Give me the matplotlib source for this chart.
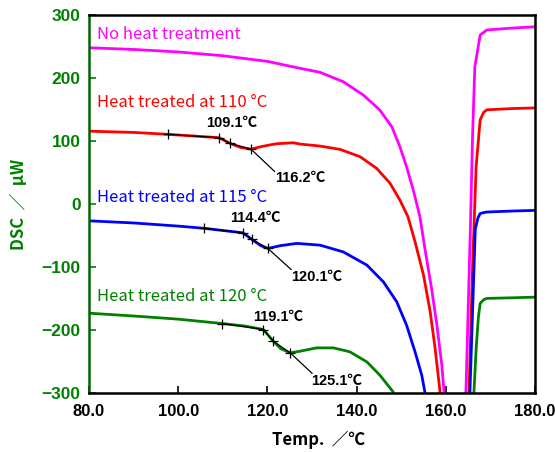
import matplotlib
matplotlib.use("Agg")
import matplotlib.pyplot as plt
from matplotlib.transforms import ScaledTranslation

# curves (temperature in degC, DSC in uW)
no_heat_t = [80, 90, 100, 110, 120, 127.3, 131.8, 137.0, 141.5, 145.2, 147.9, 149.7,
             151.2, 152.7, 154.2, 155.3, 156.8, 158.0, 159.1, 159.6, 159.9,
             164.3, 164.5, 165.5, 166.0, 166.5, 167.7, 169.2, 175, 180]
no_heat_dsc = [248.7, 246, 242, 236, 227, 216, 209.6, 194.7, 173.5, 149.6, 123, 91.2,
               59.4, 22.3, -20.2, -70.5, -134, -192.6, -256, -298.7, -340,
               -340, -300, -40, 110, 218, 269, 277, 280, 282]

ht110_t = [80, 90, 97.6, 103, 109.2, 111.6, 114, 116.3, 119, 122, 125.8, 127.3, 131.8,
           136.3, 140.8, 144.5, 147.5, 149.7, 151.5, 153.1, 155.0, 156.5, 157.6, 158.7,
           159.1, 165.0, 165.2, 166, 166.8, 167.7, 168.5, 169.2, 175, 180]
ht110_dsc = [116, 114, 111, 108.5, 105.6, 96.6, 90, 87.5, 92, 96, 97.6, 95.5, 92.3,
             87, 75.3, 56.8, 33, 6.4, -20, -60, -113, -171.4, -229.7, -298.7,
             -340, -340, -300, -100, 60, 134, 146, 150, 152, 153]

ht115_t = [80, 90, 100, 105.8, 110, 114.5, 116.5, 118.5, 120.1, 123, 126.6, 131.8, 137.0,
           142.3, 146.0, 149.0, 151.2, 153.1, 154.6, 155.3, 155.8,
           165.2, 165.4, 166.6, 167.2, 167.7, 168.5, 169.2, 175, 180]
ht115_dsc = [-26.6, -30, -35, -38.5, -42, -45.7, -56, -66, -70.5, -66, -62.5, -65.3, -76,
             -97, -123.7, -155.5, -192.6, -235, -272, -298.7, -340,
             -340, -300, -40, -22, -15, -13.5, -12.6, -11, -10]

ht120_t = [80, 90, 100, 109.9, 115, 119.1, 121.3, 123, 125.1, 127.3, 131.0, 134.8, 138.5,
           142.3, 145.2, 148.2, 148.8,
           166.1, 166.3, 166.8, 167.3, 167.7, 168.5, 169.2, 175, 180]
ht120_dsc = [-173.5, -178, -183, -190, -194, -199.5, -218, -230, -236.6, -234, -228.7, -228.7, -235,
             -251, -272, -298.7, -340,
             -340, -300, -230, -180, -158, -152, -150, -149, -148]

# onset / tangent marks on each heat treated curve
marks110_t = [97.6, 109.2, 111.6, 116.3]
marks110_dsc = [111, 105.6, 96.6, 87.5]
marks115_t = [105.8, 114.5, 116.5, 120.1]
marks115_dsc = [-38.5, -45.7, -56, -70.5]
marks120_t = [109.9, 119.1, 121.3, 125.1]
marks120_dsc = [-190, -199.5, -218, -236.6]

series_names = ["No heat treatment", "Heat treated at 110 \u00b0C",
                "Heat treated at 115 \u00b0C", "Heat treated at 120 \u00b0C"]
series_colors = ["#ff00ff", "#ff0000", "#0000ff", "#008000"]

GREEN = "#008000"

fig = plt.figure(figsize=(5.55, 4.53), dpi=100)
ax = fig.add_axes([0.1604, 0.1331, 0.8036, 0.8327])

curves = [(no_heat_t, no_heat_dsc), (ht110_t, ht110_dsc),
          (ht115_t, ht115_dsc), (ht120_t, ht120_dsc)]
for (t, d), c in zip(curves, series_colors):
    ax.plot(t, d, color=c, linewidth=2.0, solid_joinstyle="round")

for mt, md in [(marks110_t, marks110_dsc), (marks115_t, marks115_dsc),
               (marks120_t, marks120_dsc)]:
    ax.plot(mt, md, color="black", linewidth=0.9, marker="+",
            markersize=7, markeredgewidth=0.9)

# annotation labels with leader lines
label_font = dict(color="black", fontsize=10.5, fontweight="bold",
                  family=["Liberation Sans", "Noto Sans CJK JP", "DejaVu Sans"])
ax.text(112.1, 128.5, "109.1\u2103", ha="center", va="center", **label_font)
ax.text(127.3, 41.4, "116.2\u2103", ha="center", va="center", **label_font)
ax.plot([116.3, 121.6], [87.5, 52], color="black", linewidth=0.9)
ax.text(117.2, -22, "114.4\u2103", ha="center", va="center", **label_font)
ax.text(131.1, -116, "120.1\u2103", ha="center", va="center", **label_font)
ax.plot([120.1, 125.3], [-70.5, -104], color="black", linewidth=0.9)
ax.text(122.4, -180, "119.1\u2103", ha="center", va="center", **label_font)
ax.text(135.6, -282, "125.1\u2103", ha="center", va="center", **label_font)
ax.plot([125.1, 130.0], [-236.6, -269], color="black", linewidth=0.9)

# series names
name_y = [270, 162, 10.7, -147]
for name, c, yy in zip(series_names, series_colors, name_y):
    ax.text(81.8, yy, name, color=c, fontsize=12, ha="left", va="center",
            family=["Noto Sans CJK JP", "DejaVu Sans"])

ax.set_xlim(80, 180)
ax.set_ylim(-300, 300)
ax.set_xticks([80, 100, 120, 140, 160, 180])
ax.set_xticklabels(["80.0", "100.0", "120.0", "140.0", "160.0", "180.0"])
ax.set_yticks([-300, -200, -100, 0, 100, 200, 300])

tick_family = ["Liberation Sans", "DejaVu Sans"]
for lab in ax.get_xticklabels():
    lab.set_family(tick_family)
    lab.set_fontweight("bold")
    lab.set_fontsize(12)
for lab in ax.get_yticklabels():
    lab.set_family(tick_family)
    lab.set_fontweight("bold")
    lab.set_fontsize(12.5)
    lab.set_color(GREEN)

# last x label sits a bit left so it stays inside the figure
last = ax.get_xticklabels()[-1]
last.set_transform(last.get_transform() + ScaledTranslation(-4 / 100, 0, fig.dpi_scale_trans))

ax.tick_params(axis="x", direction="in", length=5, width=1.2, colors="black",
               pad=8)
ax.tick_params(axis="y", direction="in", length=5, width=1.2, colors=GREEN,
               pad=6)

for side in ["top", "right", "bottom"]:
    ax.spines[side].set_linewidth(1.8)
    ax.spines[side].set_color("black")
ax.spines["left"].set_linewidth(1.8)
ax.spines["left"].set_color("#006400")

ax.set_xlabel("Temp.  \uff0f\u2103", fontsize=12, fontweight="bold",
              family=["Noto Sans CJK JP", "DejaVu Sans"], labelpad=6)
ax.xaxis.set_label_coords(0.515, -0.1)
ax.set_ylabel("DSC  \uff0f  \u03bcW", fontsize=12, fontweight="bold", color=GREEN,
              family=["Noto Sans CJK JP", "DejaVu Sans"], labelpad=10)

fig.savefig("out.png", dpi=100)
